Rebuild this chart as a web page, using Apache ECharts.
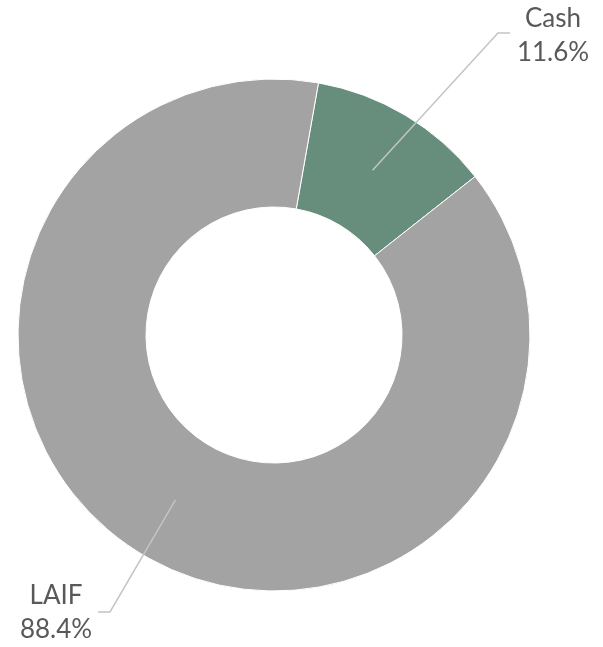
<!DOCTYPE html>
<html>
<head>
<meta charset="utf-8">
<script src="https://cdn.jsdelivr.net/npm/echarts@6/dist/echarts.min.js"></script>
<style>
  html, body { margin: 0; padding: 0; background: #fff; }
  #chart { width: 603px; height: 647px; }
</style>
</head>
<body>
<div id="chart"></div>
<script>
const categories = ['Cash', 'LAIF']
const shares = [11.6, 88.4]
const colors = ['#678e7c', '#a3a3a3']

// label anchors: [labelX, labelY, kinkX, kinkY, endX]
const labelSpots = [
  [553, 36, 498, 33, 510],
  [56, 613, 110, 612, 98]
]

const cx = 274, cy = 335, r0 = 128, r1 = 256
const startAngle = 80

// leader lines start in the middle of each slice (mid angle, mid ring)
const total = shares.reduce((a, b) => a + b, 0)
let acc = 0
const leaders = shares.map((v, i) => {
  const mid = (startAngle - (acc + v / 2) / total * 360) * Math.PI / 180
  acc += v
  const rm = (r0 + r1) / 2
  const s = labelSpots[i]
  return {
    type: 'polyline',
    z: 10,
    silent: true,
    shape: { points: [[cx + rm * Math.cos(mid), cy - rm * Math.sin(mid)], [s[2], s[3]], [s[4], s[3]]] },
    style: { stroke: '#c4c4c4', lineWidth: 1.5, fill: null }
  }
})

const chart = echarts.init(document.getElementById('chart'))

chart.setOption({
  animation: false,
  graphic: leaders,
  series: [{
    type: 'pie',
    center: [cx, cy],
    radius: [r0, r1],
    startAngle: startAngle,
    silent: true,
    data: categories.map((name, i) => ({
      name, value: shares[i], itemStyle: { color: colors[i] }
    })),
    itemStyle: { borderColor: '#fff', borderWidth: 1 },
    label: {
      show: true,
      position: 'outside',
      formatter: p => p.name + '\n' + p.value.toFixed(1) + '%',
      fontFamily: 'Lato, "Open Sans", sans-serif',
      fontSize: 26,
      lineHeight: 34,
      color: '#595959',
      align: 'center'
    },
    labelLine: { show: false },
    labelLayout: params => {
      const s = labelSpots[params.dataIndex]
      return { x: s[0], y: s[1], align: 'center', verticalAlign: 'middle' }
    }
  }]
})
</script>
</body>
</html>
